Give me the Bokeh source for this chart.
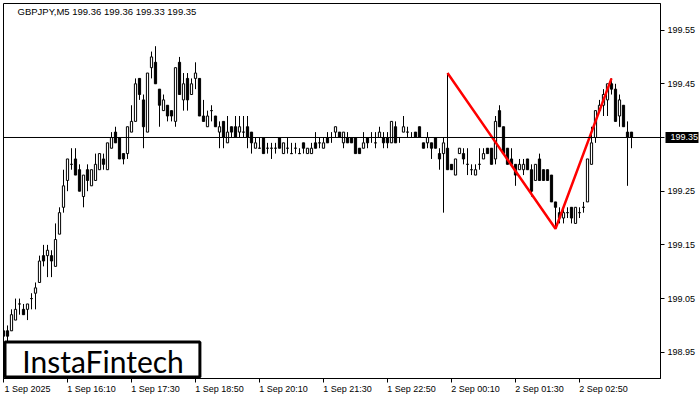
from bokeh.plotting import figure
from bokeh.models import (Range1d, FixedTicker, Label, BoxAnnotation, Span,
                          ColumnDataSource, LinearAxis)
from bokeh.embed import file_html
from bokeh.resources import INLINE

# ---- data (GBPJPY, M5) ----
opens = [198.99,198.99,198.99,199.01,199.04,199.03,199.03,199.05,199.06,199.08,
         199.13,199.13,199.13,199.11,199.17,199.22,199.27,199.30,199.31,199.29,
         199.24,199.29,199.26,199.27,199.29,199.31,199.29,199.33,199.36,199.35,
         199.32,199.32,199.36,199.38,199.46,199.42,199.36,199.48,199.49,199.44,
         199.40,199.41,199.40,199.38,199.49,199.42,199.46,199.43,199.46,199.46,
         199.39,199.37,199.40,199.39,199.36,199.38,199.34,199.37,199.37,199.36,
         199.36,199.37,199.36,199.33,199.33,199.35,199.33,199.33,199.33,199.35,
         199.32,199.33,199.32,199.33,199.32,199.34,199.32,199.32,199.34,199.34,
         199.33,199.35,199.35,199.36,199.36,199.34,199.35,199.35,199.35,199.33,
         199.33,199.35,199.35,199.34,199.35,199.35,199.35,199.34,199.37,199.35,
         199.36,199.36,199.35,199.36,199.37,199.34,199.34,199.34,199.35,199.32,
         199.32,199.33,199.30,199.28,199.32,199.32,199.30,199.29,199.28,199.30,
         199.31,199.33,199.33,199.31,199.40,199.37,199.33,199.31,199.30,199.29,
         199.29,199.31,199.29,199.27,199.31,199.29,199.29,199.28,199.23,199.21,
         199.20,199.21,199.22,199.19,199.21,199.22,199.23,199.30,199.35,199.40,
         199.41,199.42,199.45,199.44,199.39,199.41,199.36,199.36]
highs = [198.99,199.00,199.03,199.05,199.05,199.04,199.04,199.06,199.08,199.13,
         199.15,199.15,199.14,199.19,199.22,199.29,199.31,199.33,199.33,199.30,
         199.28,199.30,199.29,199.32,199.32,199.32,199.34,199.36,199.37,199.35,
         199.32,199.37,199.41,199.46,199.46,199.43,199.47,199.51,199.52,199.44,
         199.43,199.41,199.40,199.48,199.50,199.47,199.47,199.46,199.49,199.46,
         199.42,199.40,199.41,199.39,199.38,199.38,199.39,199.37,199.39,199.39,
         199.39,199.39,199.36,199.35,199.35,199.35,199.34,199.34,199.34,199.35,
         199.34,199.35,199.34,199.34,199.33,199.34,199.33,199.34,199.36,199.35,
         199.35,199.36,199.36,199.37,199.36,199.36,199.36,199.35,199.35,199.33,
         199.36,199.35,199.36,199.36,199.37,199.36,199.36,199.38,199.38,199.35,
         199.39,199.37,199.36,199.36,199.37,199.34,199.36,199.34,199.35,199.33,
         199.35,199.47,199.30,199.31,199.33,199.33,199.33,199.30,199.30,199.33,
         199.33,199.33,199.33,199.39,199.41,199.37,199.33,199.33,199.30,199.31,
         199.31,199.31,199.30,199.30,199.32,199.29,199.29,199.28,199.23,199.22,
         199.22,199.22,199.22,199.22,199.22,199.23,199.31,199.37,199.40,199.42,
         199.44,199.45,199.46,199.45,199.43,199.41,199.38,199.36]
lows = [198.98,198.97,198.99,199.01,199.02,199.02,199.01,199.03,199.03,199.08,
        199.11,199.09,199.09,199.11,199.17,199.21,199.25,199.29,199.28,199.25,
        199.22,199.25,199.26,199.27,199.29,199.29,199.29,199.33,199.34,199.31,
        199.30,199.31,199.36,199.38,199.42,199.33,199.36,199.46,199.45,199.37,
        199.40,199.38,199.38,199.37,199.43,199.40,199.40,199.43,199.44,199.39,
        199.38,199.37,199.38,199.37,199.33,199.33,199.34,199.35,199.35,199.35,
        199.35,199.33,199.32,199.33,199.33,199.32,199.32,199.31,199.32,199.33,
        199.32,199.32,199.32,199.32,199.32,199.32,199.32,199.32,199.33,199.33,
        199.33,199.34,199.34,199.35,199.35,199.33,199.34,199.34,199.32,199.32,
        199.33,199.33,199.34,199.33,199.35,199.33,199.33,199.34,199.34,199.34,
        199.36,199.35,199.35,199.35,199.35,199.33,199.33,199.31,199.33,199.29,
        199.21,199.29,199.29,199.28,199.32,199.30,199.28,199.28,199.28,199.29,
        199.31,199.32,199.30,199.30,199.37,199.32,199.30,199.30,199.26,199.29,
        199.28,199.29,199.24,199.27,199.27,199.27,199.27,199.23,199.18,199.19,
        199.19,199.20,199.19,199.19,199.20,199.21,199.23,199.30,199.34,199.40,
        199.39,199.39,199.43,199.38,199.37,199.37,199.26,199.33]
closes = [198.98,198.98,199.02,199.03,199.04,199.02,199.04,199.05,199.07,199.12,
          199.12,199.14,199.12,199.16,199.21,199.26,199.31,199.30,199.28,199.25,
          199.28,199.27,199.29,199.30,199.32,199.30,199.34,199.35,199.34,199.31,
          199.31,199.37,199.38,199.45,199.43,199.37,199.47,199.50,199.45,199.41,
          199.42,199.39,199.39,199.48,199.43,199.45,199.42,199.45,199.47,199.39,
          199.38,199.39,199.40,199.37,199.37,199.35,199.36,199.36,199.35,199.37,
          199.36,199.35,199.34,199.34,199.33,199.32,199.33,199.33,199.33,199.33,
          199.34,199.33,199.32,199.33,199.32,199.33,199.33,199.33,199.33,199.34,
          199.34,199.34,199.35,199.37,199.35,199.36,199.34,199.34,199.32,199.32,
          199.34,199.34,199.35,199.34,199.36,199.34,199.34,199.38,199.34,199.35,
          199.37,199.36,199.35,199.35,199.35,199.33,199.35,199.33,199.33,199.31,
          199.34,199.29,199.29,199.31,199.33,199.31,199.30,199.29,199.29,199.30,
          199.32,199.32,199.30,199.38,199.37,199.32,199.30,199.30,199.28,199.30,
          199.30,199.29,199.25,199.30,199.27,199.27,199.27,199.23,199.22,199.20,
          199.21,199.21,199.20,199.22,199.21,199.22,199.31,199.34,199.40,199.41,
          199.43,199.45,199.44,199.38,199.42,199.37,199.35,199.35]

time_tick_idx = [0, 16, 32, 48, 64, 80, 96, 112, 128, 144]
time_tick_labels = ["1 Sep 2025", "1 Sep 16:10", "1 Sep 17:30", "1 Sep 18:50",
                    "1 Sep 20:10", "1 Sep 21:30", "1 Sep 22:50", "2 Sep 00:10",
                    "2 Sep 01:30", "2 Sep 02:50"]
price_ticks = [198.95, 199.05, 199.15, 199.25, 199.35, 199.45, 199.55]
price_tick_labels = ["198.95", "199.05", "199.15", "199.25", "199.35", "199.45", "199.55"]

pattern_idx = [111, 138, 152]          # double-top pattern pivots
pattern_kind = ["high", "low", "high"]

title_text = "GBPJPY,M5  199.36 199.36 199.33 199.35"
bid_text = "199.35"
logo_text = "InstaFintech"

FONT = "Liberation Sans"
X0, X1 = 0, 164.25
Y0, Y1 = 198.9012, 199.5995

n = len(opens)
idx = list(range(n))
bull = [c >= o for o, c in zip(opens, closes)]
src = ColumnDataSource(dict(
    x=idx, o=opens, h=highs, l=lows, c=closes,
    top=[max(o, c) for o, c in zip(opens, closes)],
    bottom=[min(o, c) for o, c in zip(opens, closes)],
    fill=["white" if b else "black" for b in bull],
))

p = figure(frame_width=657, frame_height=375,
           x_range=Range1d(X0, X1), y_range=Range1d(Y0, Y1),
           y_axis_location="right", toolbar_location=None, output_backend="svg",
           background_fill_color="white", border_fill_color="white")
p.min_border_left = 3
p.min_border_top = 3
p.min_border_right = 0
p.min_border_bottom = 0
p.grid.visible = False
p.outline_line_color = "black"
p.outline_line_width = 1
p.outline_line_alpha = 1

def style_axis(ax):
    ax.axis_line_color = "black"
    ax.major_tick_line_color = "black"
    ax.major_tick_in = 0
    ax.major_tick_out = 4
    ax.minor_tick_line_color = None
    ax.major_label_text_font = FONT
    ax.major_label_text_font_size = "9px"
    ax.major_label_text_color = "black"
    ax.major_label_standoff = 3

style_axis(p.yaxis[0])
p.yaxis[0].ticker = FixedTicker(ticks=price_ticks)
p.yaxis[0].major_label_overrides = {t: s for t, s in zip(price_ticks, price_tick_labels)}

# bid price tag: an outer axis whose single thick tick reaches back inward over
# the price labels, with its white label drawn on top of it
tag_ax = LinearAxis(ticker=FixedTicker(ticks=[closes[-1]]),
                    major_label_overrides={closes[-1]: bid_text})
tag_ax.axis_line_color = None
tag_ax.major_tick_line_color = "black"
tag_ax.major_tick_line_width = 11
tag_ax.major_tick_line_cap = "butt"
tag_ax.major_tick_in = 33
tag_ax.major_tick_out = 0
tag_ax.minor_tick_line_color = None
tag_ax.major_label_text_font = FONT
tag_ax.major_label_text_font_size = "9px"
tag_ax.major_label_text_color = "white"
tag_ax.major_label_standoff = -28
p.add_layout(tag_ax, "right")

# bottom: tick marks only
xa = p.xaxis[0]
style_axis(xa)
xa.ticker = FixedTicker(ticks=time_tick_idx)
xa.major_label_text_font_size = "1px"
xa.major_label_text_color = None
xa.major_label_standoff = 0

# bottom: labels, left-aligned to the ticks (label centre shifted right)
label_shift = 6.0
xl = LinearAxis(ticker=FixedTicker(ticks=[t + label_shift for t in time_tick_idx]),
                major_label_overrides={t + label_shift: s for t, s in zip(time_tick_idx, time_tick_labels)})
xl.axis_line_color = None
xl.major_tick_line_color = None
xl.major_tick_out = 0
xl.major_tick_in = 0
xl.minor_tick_line_color = None
xl.major_label_text_font = FONT
xl.major_label_text_font_size = "9px"
xl.major_label_text_color = "black"
xl.major_label_standoff = 1
p.add_layout(xl, "below")

# bid line
p.add_layout(Span(location=closes[-1], dimension="width", line_color="black", line_width=1))

# candles
p.segment(x0="x", y0="h", x1="x", y1="l", source=src, line_color="black", line_width=1)
p.vbar(x="x", top="top", bottom="bottom", width=0.55, source=src,
       fill_color="fill", line_color="black", line_width=1)

# pattern line
pat_y = [highs[i] if k == "high" else lows[i] for i, k in zip(pattern_idx, pattern_kind)]
p.line(pattern_idx, pat_y, line_color="#ff0000", line_width=2.5)

# title
p.add_layout(Label(x=3.5, y=199.594, text=title_text, text_font=FONT,
                   text_font_size="9.5px", text_color="black", text_baseline="top"))

# logo
p.add_layout(BoxAnnotation(left=0.375, right=49.1, bottom=198.904, top=198.9692,
                           fill_color="white", fill_alpha=1, line_color="black",
                           line_width=3, line_alpha=1, level="overlay"))
p.add_layout(Label(x=24.9, y=198.933, text=logo_text, text_font="Lato",
                   text_font_size="30px", text_color="black", text_align="center",
                   text_baseline="alphabetic", level="overlay"))

open("out.html", "w").write(file_html(p, INLINE))
